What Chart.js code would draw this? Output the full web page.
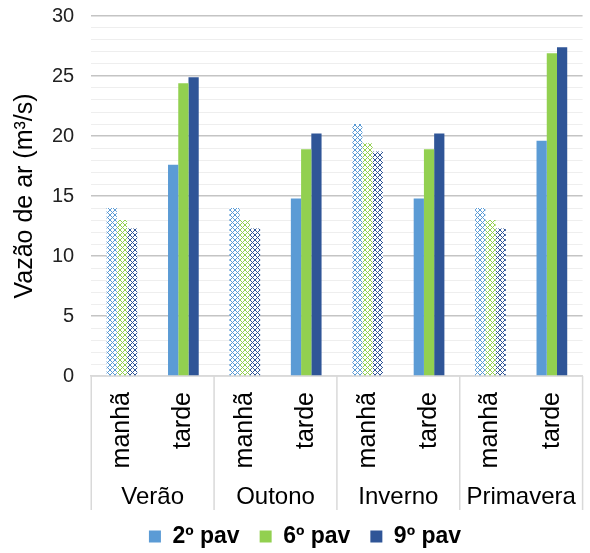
<!DOCTYPE html>
<html>
<head>
<meta charset="utf-8">
<script src="https://cdn.jsdelivr.net/npm/chart.js@4"></script>
<style>
  body { margin: 0; background: #fff; }
  #wrap { width: 590px; height: 553px; }
</style>
</head>
<body>
<div id="wrap"><canvas id="airChart" width="590" height="553"></canvas></div>
<script>
// dados
const periods = ['manhã', 'tarde', 'manhã', 'tarde', 'manhã', 'tarde', 'manhã', 'tarde'];
const seasons = ['Verão', 'Outono', 'Inverno', 'Primavera'];
const pav2 = [14, 17.6, 14, 14.8, 21, 14.8, 14, 19.6];
const pav6 = [13, 24.4, 13, 18.9, 19.4, 18.9, 13, 26.9];
const pav9 = [12.3, 24.9, 12.3, 20.2, 18.7, 20.2, 12.3, 27.4];

const colors = ['#5b9bd5', '#92d050', '#2f5597'];
const FONT = '"Liberation Sans", Arial, sans-serif';

// padrão xadrez para as barras da manhã
function makePattern(color) {
    const c = document.createElement('canvas');
    c.width = 5; c.height = 5;
    const g = c.getContext('2d');
    g.fillStyle = '#fff';
    g.fillRect(0, 0, 5, 5);
    g.strokeStyle = color;
    g.lineWidth = 1;
    g.beginPath();
    g.moveTo(0, 0); g.lineTo(5, 5);
    g.moveTo(5, 0); g.lineTo(0, 5);
    g.stroke();
    return document.getElementById('airChart').getContext('2d').createPattern(c, 'repeat');
}

function barFill(i) {
    const pat = makePattern(colors[i]);
    return ctx => (ctx.dataIndex % 2 === 0 ? pat : colors[i]);
}

// rótulos das estações e separadores abaixo do eixo
const groupLabels = {
    id: 'groupLabels',
    afterLayout(chart) {
        // legenda um pouco à direita, como no original
        chart.legend.left += 22;
    },
    afterDraw(chart) {
        const x = chart.scales.x;
        const area = chart.chartArea;
        const c = chart.ctx;
        c.save();
        c.strokeStyle = '#d9d9d9';
        c.lineWidth = 1.5;
        const bottom = area.bottom + 134;
        for (let s = 0; s <= seasons.length; s++) {
            let px;
            if (s === 0) px = area.left;
            else if (s === seasons.length) px = area.right;
            else px = (x.getPixelForValue(s * 2 - 1) + x.getPixelForValue(s * 2)) / 2;
            c.beginPath();
            c.moveTo(px, area.bottom);
            c.lineTo(px, bottom);
            c.stroke();
        }
        c.fillStyle = '#000';
        c.font = '24px ' + FONT;
        c.textAlign = 'center';
        c.textBaseline = 'middle';
        seasons.forEach((name, s) => {
            const cx = (x.getPixelForValue(s * 2) + x.getPixelForValue(s * 2 + 1)) / 2;
            c.fillText(name, cx, area.bottom + 121);
        });
        c.restore();
    }
};

new Chart(document.getElementById('airChart').getContext('2d'), {
    type: 'bar',
    data: {
        labels: periods,
        datasets: [
            { label: '2º pav', data: pav2, backgroundColor: barFill(0) },
            { label: '6º pav', data: pav6, backgroundColor: barFill(1) },
            { label: '9º pav', data: pav9, backgroundColor: barFill(2) }
        ]
    },
    options: {
        responsive: false,
        animation: false,
        layout: { padding: { top: 16, right: 2, left: 0, bottom: -5 } },
        datasets: { bar: { categoryPercentage: 0.5, barPercentage: 1 } },
        scales: {
            x: {
                grid: { display: false },
                border: { display: true, color: '#d9d9d9', width: 1.5 },
                ticks: {
                    minRotation: 90,
                    maxRotation: 90,
                    padding: 8,
                    color: '#000',
                    font: { family: FONT, size: 25 }
                },
                afterFit: scale => { scale.height = 129; }
            },
            y: {
                min: 0,
                max: 30,
                border: { display: false },
                grid: {
                    drawTicks: true,
                    tickLength: 17,
                    tickColor: 'rgba(0,0,0,0)',
                    color: ctx => (ctx.tick.value % 5 === 0 ? '#c4c4c4' : '#eeeeee'),
                    lineWidth: ctx => (ctx.tick.value % 5 === 0 ? 1.5 : 1)
                },
                ticks: {
                    stepSize: 1,
                    autoSkip: false,
                    padding: 0,
                    color: '#222',
                    font: { family: FONT, size: 20 },
                    callback: v => (v % 5 === 0 ? v : '')
                },
                title: {
                    display: true,
                    text: 'Vazão de ar (m³/s)',
                    color: '#000',
                    font: { family: FONT, size: 25 },
                    padding: { top: 10, bottom: 12 }
                }
            }
        },
        plugins: {
            legend: {
                position: 'bottom',
                labels: {
                    boxWidth: 12,
                    boxHeight: 12,
                    padding: 20,
                    color: '#000',
                    font: { family: FONT, size: 23, weight: 'bold' },
                    generateLabels: chart => chart.data.datasets.map((d, i) => ({
                        text: d.label,
                        fillStyle: colors[i],
                        strokeStyle: colors[i],
                        lineWidth: 0,
                        datasetIndex: i
                    }))
                }
            },
            tooltip: { enabled: false }
        }
    },
    plugins: [groupLabels]
});
</script>
</body>
</html>
